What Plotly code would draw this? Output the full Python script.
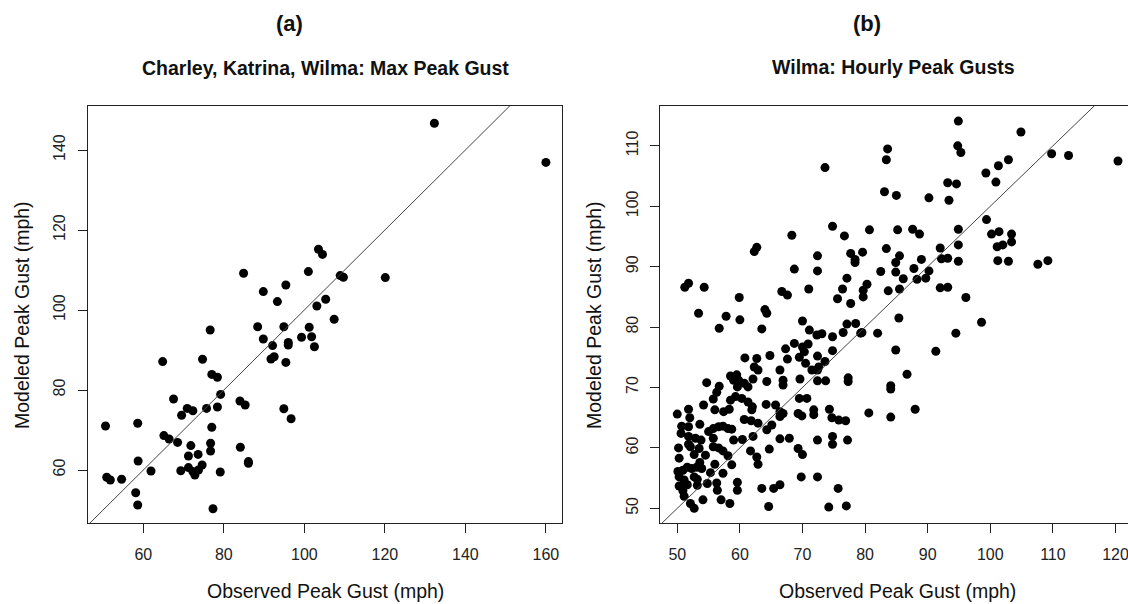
import plotly.graph_objects as go

W, H = 1128, 604

# ---------------- Panel (a): Charley, Katrina, Wilma max peak gust ----------------
obs_a = [84.9, 103.5, 104.5, 101.0, 89.8, 95.4, 93.3, 103.1, 105.3,
         132.3, 160.0, 108.9, 109.7, 120.1, 107.4,
         76.6, 88.4, 94.9, 101.2, 89.8, 92.1, 96.0, 96.0, 99.3, 101.8, 102.5,
         91.7, 92.5, 95.4, 64.8, 74.7, 77.0, 78.4, 79.2, 67.5, 84.0, 85.3,
         70.9, 72.3, 69.5, 75.7, 78.4, 94.9, 96.7, 50.6, 58.6, 77.0,
         65.1, 66.4, 68.5, 71.8, 76.7, 76.7, 84.1, 71.2, 73.6, 58.7, 86.1, 86.1,
         61.9, 69.3, 71.2, 72.3, 72.8, 73.7, 74.6, 79.1, 50.9, 51.8, 54.6,
         58.1, 58.6, 77.3]
mod_a = [109.2, 115.2, 113.9, 109.6, 104.6, 106.25, 102.1, 101.0, 102.7,
         146.7, 136.9, 108.6, 108.2, 108.1, 97.7,
         95.0, 95.8, 95.8, 95.7, 92.75, 91.1, 91.9, 91.25, 93.2, 93.3, 90.8,
         87.75, 88.3, 86.9, 87.1, 87.7, 83.9, 83.2, 78.9, 77.75, 77.25, 76.25,
         75.4, 74.8, 73.7, 75.4, 75.75, 75.3, 72.8, 71.0, 71.7, 70.7,
         68.6, 67.75, 66.9, 66.1, 66.7, 64.75, 65.7, 63.5, 63.9, 62.25, 62.1, 61.7,
         59.75, 59.8, 60.6, 59.6, 58.75, 60.0, 61.25, 59.5, 58.2, 57.5, 57.7,
         54.3, 51.25, 50.3]

# ---------------- Panel (b): Wilma hourly peak gusts ----------------
obs_b = [
    73.6, 74.8, 76.7, 68.3, 62.3, 62.7, 72.4, 72.4, 68.7, 77.7, 78.4, 78.4, 79.6,
    77.1, 76.4, 75.6, 77.7, 79.7, 79.7, 71.0, 66.7, 67.6, 51.2, 51.8, 54.3, 53.4,
    57.8, 59.9, 60.0, 64.0, 64.3, 70.0, 77.1, 78.5,
    56.7, 63.5, 71.1, 72.3, 73.1, 74.8, 76.5, 79.5,
    68.7, 67.3, 70.0, 70.3, 70.9, 74.8, 64.8, 62.7, 60.8, 67.6, 69.5, 72.4, 70.5,
    73.6, 62.3, 62.9, 66.4, 71.5, 72.4, 72.6,
    62.1, 64.3, 66.9, 66.9, 69.6, 72.4, 73.7, 58.5, 59.5, 59.0, 59.8, 60.7, 61.3,
    59.6, 54.7, 56.7, 56.3, 55.75, 58.5, 59.3, 60.3, 61.3, 62.0, 61.9, 64.2, 65.7,
    66.4, 66.9, 66.4, 69.3, 69.9, 71.8, 71.8, 74.3, 74.7, 75.8, 76.9, 77.3, 77.3,
    69.5, 70.7,
    72.4, 74.8, 74.8, 77.2, 67.9, 69.3, 70.0, 64.7, 62.1, 61.7, 62.7, 62.9, 60.4,
    59.0, 60.7, 61.8, 62.9, 65.1, 64.3, 63.5, 65.4, 66.4, 64.6, 66.4, 69.8, 72.4,
    75.7, 74.2, 77.0,
    50.0, 51.8, 50.7, 50.6, 53.6, 54.2, 55.0, 55.75, 56.6, 57.3, 58.1, 58.7, 50.2,
    51.8, 51.8, 52.1, 50.3, 52.7, 53.5, 53.8, 50.1, 50.9, 51.6, 52.3, 53.1, 53.9,
    50.3, 51.1, 52.7, 53.2, 50.3, 51.6, 53.2, 50.9, 51.1, 52.1, 52.7, 54.1, 54.8,
    56.3, 56.4, 56.0, 57.3, 57.0, 58.4, 58.7, 58.1, 56.6, 57.3, 55.75, 59.6, 59.6,
    55.75, 51.8, 52.9, 53.6, 55.3, 54.5, 52.0, 56.0, 57.4, 58.3,
    94.9, 104.9, 83.6, 83.4, 94.8, 95.3, 109.8, 112.5, 120.4, 102.9, 101.3, 99.3,
    100.9, 93.2, 94.6, 83.1, 85.0, 90.2, 93.4, 99.4, 80.7, 85.2, 87.6, 88.7, 94.9,
    100.2, 101.4, 103.4, 103.4, 101.1, 102.0, 94.9, 92.0, 83.4, 85.5, 84.9, 89.0,
    92.2, 93.2, 94.9, 101.2, 102.9, 107.6, 109.2, 82.5, 84.9, 87.8, 86.1, 88.3,
    89.7, 90.2, 92.0, 93.2, 80.3, 83.7, 85.5, 96.1, 85.4, 98.6,
    79.3, 82.0, 94.5, 84.9, 91.3, 86.7, 84.1, 84.1, 80.6, 84.1, 88.0,
]
mod_b = [
    106.4, 96.7, 95.1, 95.2, 92.5, 93.2, 91.8, 89.3, 89.6, 92.2, 91.2, 90.7, 92.4,
    88.1, 86.3, 84.7, 83.9, 86.1, 85.0, 86.3, 85.9, 85.3, 86.6, 87.25, 86.6, 82.3,
    81.8, 84.9, 81.2, 82.9, 82.3, 81.0, 80.5, 80.6,
    79.8, 79.7, 79.5, 78.7, 78.9, 78.4, 79.1, 79.1,
    77.3, 76.4, 76.7, 75.9, 77.2, 76.1, 75.3, 74.8, 74.9, 74.7, 75.0, 75.2, 74.0,
    74.3, 73.4, 72.9, 72.9, 72.9, 72.9, 73.4,
    71.4, 71.0, 71.2, 70.4, 71.4, 71.1, 71.1, 71.9, 72.1, 71.2, 71.2, 70.7, 70.1,
    70.1, 70.8, 70.2, 69.2, 68.1, 67.9, 68.5, 68.2, 67.6, 66.8, 66.3, 67.2, 67.1,
    66.0, 65.7, 65.2, 65.7, 65.3, 66.3, 65.5, 66.4, 65.0, 64.6, 64.5, 71.6, 71.0,
    68.2, 68.2,
    61.3, 61.9, 60.6, 61.3, 61.6, 59.9, 58.9, 59.8, 61.9, 59.5, 58.5, 57.3, 61.4,
    61.3, 64.7, 64.5, 64.1, 63.8, 63.0, 53.3, 53.3, 53.9, 50.3, 61.5, 55.2, 55.2,
    53.3, 50.2, 50.4,
    65.6, 66.4, 63.6, 62.4, 63.9, 67.1, 62.7, 63.2, 63.5, 63.6, 63.2, 63.1, 60.0,
    61.9, 60.6, 60.2, 58.3, 58.9, 59.9, 61.3, 56.1, 56.3, 56.8, 56.6, 56.8, 56.6,
    55.2, 54.7, 55.2, 54.8, 53.7, 53.9, 53.8, 52.9, 52.0, 50.8, 50.0, 51.4, 54.1,
    54.2, 53.0, 57.3, 55.8, 51.4, 50.8, 57.2, 58.7, 60.0, 59.5, 60.2, 54.3, 53.0,
    61.6, 63.5, 61.6, 57.6, 55.9, 58.8, 65.0, 66.3, 66.0, 66.4,
    114.1, 112.3, 109.5, 107.7, 110.0, 108.9, 108.7, 108.4, 107.5, 107.7, 106.7,
    105.5, 104.0, 103.9, 103.7, 102.4, 101.8, 101.4, 101.0, 97.8, 96.1, 96.1, 96.2,
    95.4, 96.2, 95.4, 95.8, 95.4, 94.1, 93.3, 93.6, 93.6, 93.1, 93.0, 91.8, 90.7,
    91.2, 91.3, 91.4, 90.9, 91.0, 90.9, 90.4, 91.0, 89.2, 89.1, 89.7, 88.0, 87.9,
    88.1, 89.3, 86.5, 86.6, 87.1, 86.0, 86.3, 84.9, 81.5, 80.8,
    79.0, 79.0, 79.0, 76.2, 76.0, 72.2, 70.3, 69.75, 65.8, 65.1, 66.4,
]

tick_a = [60, 80, 100, 120, 140, 160]
ytick_a = [60, 80, 100, 120, 140]
tick_b = [50, 60, 70, 80, 90, 100, 110, 120]
ytick_b = [50, 60, 70, 80, 90, 100, 110]

xr_a = [46.25, 164.0]
yr_a = [46.75, 151.0]
xr_b = [47.24, 122.0]
yr_b = [47.57, 116.6]

FONT = "Liberation Sans, Arial, Helvetica, sans-serif"
AX = "#222222"

fig = go.Figure()
fig.add_trace(go.Scatter(x=obs_a, y=mod_a, mode="markers", xaxis="x", yaxis="y",
                         marker=dict(size=9, color="black"), showlegend=False))
fig.add_trace(go.Scatter(x=[0, 200], y=[0, 200], mode="lines", xaxis="x", yaxis="y",
                         line=dict(color="#444444", width=1), showlegend=False))
fig.add_trace(go.Scatter(x=obs_b, y=mod_b, mode="markers", xaxis="x2", yaxis="y2",
                         marker=dict(size=9, color="black"), showlegend=False))
fig.add_trace(go.Scatter(x=[0, 200], y=[0, 200], mode="lines", xaxis="x2", yaxis="y2",
                         line=dict(color="#444444", width=1), showlegend=False))

def px(v):
    return v / W

def py(v):
    return 1 - v / H

axis_common = dict(showgrid=False, zeroline=False, showline=True, linecolor=AX,
                   linewidth=1.3, ticks="outside", ticklen=9, tickwidth=1.3,
                   tickcolor=AX, tickfont=dict(family=FONT, size=16, color="#222"))

fig.update_layout(
    width=W, height=H, margin=dict(l=0, r=0, t=0, b=0),
    paper_bgcolor="white", plot_bgcolor="white",
    xaxis=dict(domain=[px(88), px(562)], range=xr_a, tickvals=tick_a, mirror=True,
               anchor="y", ticklabelstandoff=8, **axis_common),
    yaxis=dict(domain=[py(523), py(106)], range=yr_a, tickvals=ytick_a, mirror=True,
               anchor="x", tickangle=-90, ticklabelstandoff=6, **axis_common),
    xaxis2=dict(domain=[px(660), 1.0], range=xr_b, tickvals=tick_b, mirror=True,
                anchor="y2", ticklabeloverflow="allow", ticklabelstandoff=8,
                **axis_common),
    yaxis2=dict(domain=[py(523), py(106)], range=yr_b, tickvals=ytick_b, mirror=False,
                anchor="x2", tickangle=-90, ticklabelstandoff=5, **axis_common),
)

ann = []
def add_text(text, x, y, size, bold=False, angle=0):
    ann.append(dict(text=("<b>%s</b>" % text) if bold else text, x=px(x), y=py(y),
                    xref="paper", yref="paper", showarrow=False, xanchor="center",
                    yanchor="middle", textangle=angle,
                    font=dict(family=FONT, size=size, color="#111")))

add_text("(a)", 289, 24, 22, bold=True)
add_text("(b)", 867, 24, 22, bold=True)
add_text("Charley, Katrina, Wilma: Max Peak Gust", 325, 68, 19.5, bold=True)
add_text("Wilma: Hourly Peak Gusts", 893, 67, 19.5, bold=True)
add_text("Observed Peak Gust (mph)", 325, 591, 19.5)
add_text("Observed Peak Gust (mph)", 897, 591, 19.5)
add_text("Modeled Peak Gust (mph)", 22, 315, 19.5, angle=-90)
add_text("Modeled Peak Gust (mph)", 594, 315, 19.5, angle=-90)
fig.update_layout(annotations=ann)

fig.write_html("out.html", config={"displayModeBar": False},
               post_script="document.body.style.margin='0px';document.body.style.overflow='hidden';")
